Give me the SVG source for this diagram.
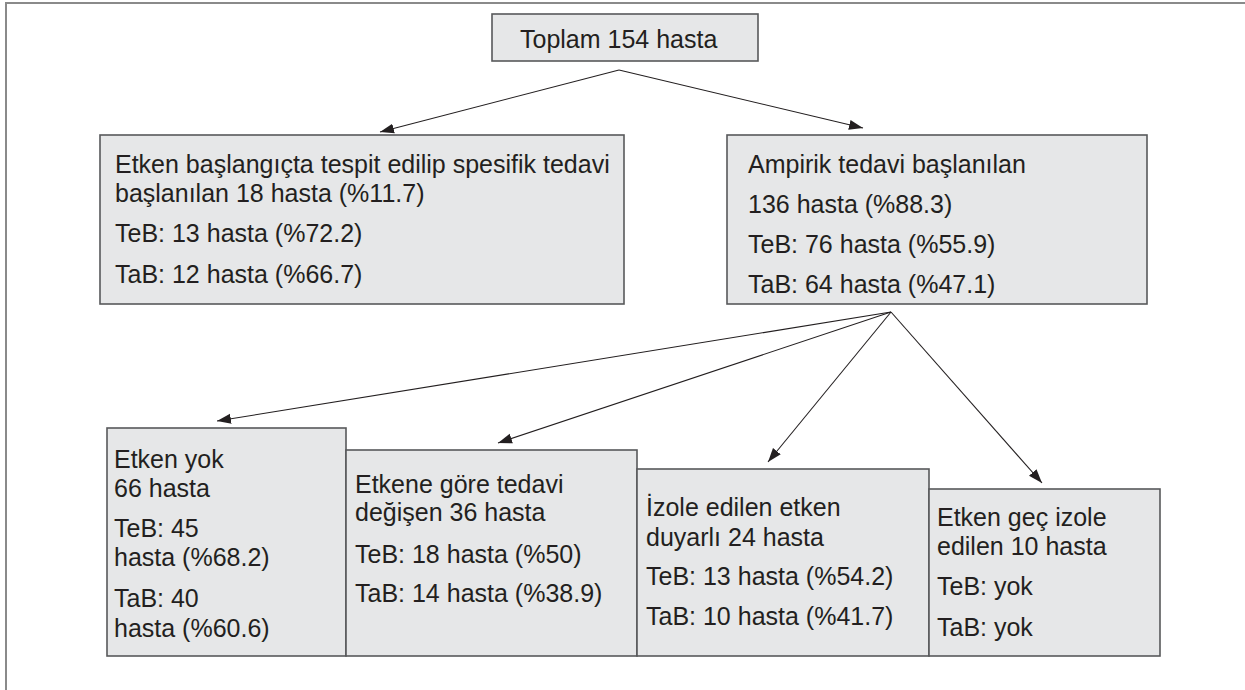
<svg xmlns="http://www.w3.org/2000/svg" width="1245" height="690" viewBox="0 0 1245 690">
<defs>
<style>
.box{fill:#e6e7e8;stroke:#58595b;stroke-width:1.6}
.t{font-family:"Liberation Sans",Arial,sans-serif;font-size:25px;fill:#231f20}
.c{stroke:#231f20;stroke-width:1.1;fill:none;marker-end:url(#ah)}
</style>
<marker id="ah" markerUnits="userSpaceOnUse" markerWidth="16" markerHeight="12" refX="14" refY="5" orient="auto" viewBox="0 0 16 10">
<path d="M0,0 L14,5 L0,10 Z" fill="#231f20"/>
</marker>
</defs>
<rect width="1245" height="690" fill="#fff"/>
<path d="M6,690 V3 H1245" fill="none" stroke="#8a8a8a" stroke-width="2"/>
<g id="connectors">
<line class="c" x1="619" y1="70" x2="380" y2="132"/>
<line class="c" x1="619" y1="70" x2="863" y2="128"/>
<line class="c" x1="891" y1="312" x2="217" y2="421"/>
<line class="c" x1="891" y1="312" x2="498" y2="443"/>
<line class="c" x1="891" y1="312" x2="768" y2="462"/>
<line class="c" x1="891" y1="312" x2="1042" y2="483"/>
</g>
<g id="n_total">
<rect class="box" x="492" y="14" width="266" height="47"/>
<text class="t" x="520" y="48">Toplam 154 hasta</text>
</g>
<g id="n_specific">
<rect class="box" x="100" y="135" width="524" height="169"/>
<text class="t" x="115" y="173">Etken başlangıçta tespit edilip spesifik tedavi</text>
<text class="t" x="115" y="202">başlanılan 18 hasta (%11.7)</text>
<text class="t" x="115" y="242">TeB: 13 hasta (%72.2)</text>
<text class="t" x="115" y="283">TaB: 12 hasta (%66.7)</text>
</g>
<g id="n_empiric">
<rect class="box" x="727" y="135" width="420" height="169"/>
<text class="t" x="748" y="173">Ampirik tedavi başlanılan</text>
<text class="t" x="748" y="213">136 hasta (%88.3)</text>
<text class="t" x="748" y="253">TeB: 76 hasta (%55.9)</text>
<text class="t" x="748" y="293">TaB: 64 hasta (%47.1)</text>
</g>
<g id="n_none">
<rect class="box" x="107" y="428" width="239" height="228"/>
<text class="t" x="114" y="468">Etken yok</text>
<text class="t" x="114" y="497">66 hasta</text>
<text class="t" x="114" y="537">TeB: 45</text>
<text class="t" x="114" y="566">hasta (%68.2)</text>
<text class="t" x="114" y="607">TaB: 40</text>
<text class="t" x="114" y="637">hasta (%60.6)</text>
</g>
<g id="n_changed">
<rect class="box" x="346" y="450" width="291" height="206"/>
<text class="t" x="355" y="493">Etkene göre tedavi</text>
<text class="t" x="355" y="521">değişen 36 hasta</text>
<text class="t" x="355" y="563">TeB: 18 hasta (%50)</text>
<text class="t" x="355" y="602">TaB: 14 hasta (%38.9)</text>
</g>
<g id="n_sensitive">
<rect class="box" x="637" y="469" width="292" height="187"/>
<text class="t" x="646" y="516">İzole edilen etken</text>
<text class="t" x="646" y="546">duyarlı 24 hasta</text>
<text class="t" x="646" y="585">TeB: 13 hasta (%54.2)</text>
<text class="t" x="646" y="625">TaB: 10 hasta (%41.7)</text>
</g>
<g id="n_late">
<rect class="box" x="929" y="489" width="231" height="167"/>
<text class="t" x="937" y="526">Etken geç izole</text>
<text class="t" x="937" y="555">edilen 10 hasta</text>
<text class="t" x="937" y="595">TeB: yok</text>
<text class="t" x="937" y="636">TaB: yok</text>
</g>
</svg>
